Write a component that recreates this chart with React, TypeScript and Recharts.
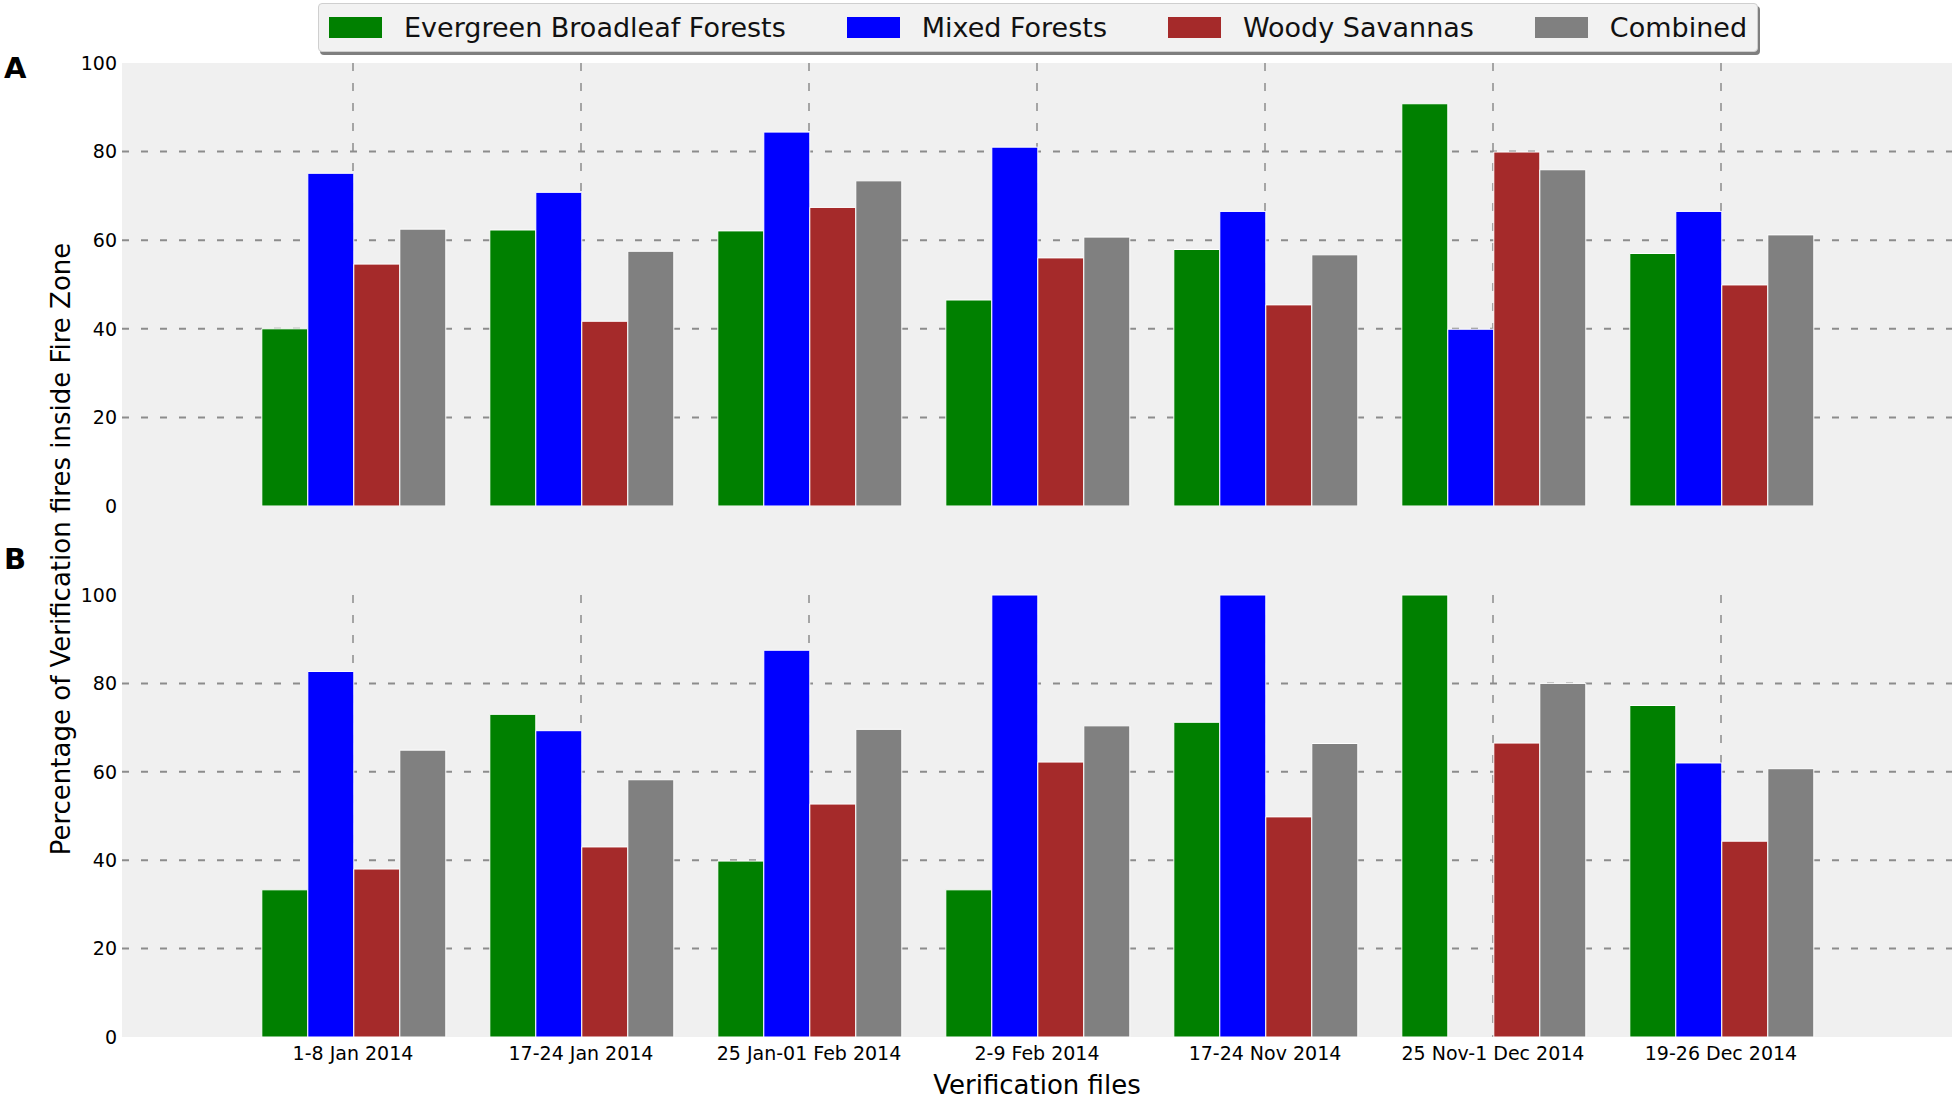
import React from "react";
import { BarChart, Bar, XAxis, YAxis, CartesianGrid, Legend, Label } from "recharts";

// ── data ────────────────────────────────────────────────────────────────────
const PERIODS = [
  "1-8 Jan 2014",
  "17-24 Jan 2014",
  "25 Jan-01 Feb 2014",
  "2-9 Feb 2014",
  "17-24 Nov 2014",
  "25 Nov-1 Dec 2014",
  "19-26 Dec 2014",
];

// panel A
const EVERGREEN_A = [40.0, 62.3, 62.1, 46.5, 57.9, 90.8, 57.0];
const MIXED_A = [75.1, 70.8, 84.4, 81.0, 66.5, 39.9, 66.5];
const WOODY_A = [54.6, 41.7, 67.4, 56.0, 45.4, 79.9, 49.9];
const COMBINED_A = [62.5, 57.5, 73.4, 60.7, 56.7, 75.9, 61.2];

// panel B (no mixed-forest fires in 25 Nov-1 Dec)
const EVERGREEN_B = [33.3, 73.0, 39.8, 33.3, 71.2, 100, 75.0];
const MIXED_B = [82.7, 69.3, 87.5, 100, 100, null, 62.0];
const WOODY_B = [38.0, 43.0, 52.7, 62.2, 49.8, 66.5, 44.3];
const COMBINED_B = [64.9, 58.2, 69.6, 70.4, 66.4, 80.0, 60.7];

const Y_TICKS = [0, 20, 40, 60, 80, 100];
const GRID_VALUES = [20, 40, 60, 80];

const SERIES = [
  { key: "evergreen", name: "Evergreen Broadleaf Forests", color: "#008000" },
  { key: "mixed", name: "Mixed Forests", color: "#0000ff" },
  { key: "woody", name: "Woody Savannas", color: "#a52a2a" },
  { key: "combined", name: "Combined", color: "#808080" },
];

const toRows = (e: any[], m: any[], w: any[], c: any[]) =>
  PERIODS.map((p, i) => ({ period: p, evergreen: e[i], mixed: m[i], woody: w[i], combined: c[i] }));

const ROWS_A = toRows(EVERGREEN_A, MIXED_A, WOODY_A, COMBINED_A);
const ROWS_B = toRows(EVERGREEN_B, MIXED_B, WOODY_B, COMBINED_B);

// ── look ────────────────────────────────────────────────────────────────────
const W = 1955;
const H = 1099;
const BG = "#f0f0f0";
const GRID = "#8c8c8c";
const INK = "#000";
const FONT = '"DejaVu Sans", sans-serif';
const PAD = { left: 117, right: 117 };
const tickStyle = { fontSize: 19, fill: INK };

// legend keeps the series order, not recharts' alphabetical one
const seriesRank = (name: string) => SERIES.findIndex((s) => s.name === name);

function LegendBox({ payload }: any) {
  const items = [...(payload || [])].sort((a: any, b: any) => seriesRank(a.value) - seriesRank(b.value));
  return (
    <div
      style={{
        display: "flex", alignItems: "center", height: 49, boxSizing: "border-box",
        padding: "0 15px 0 10px", background: "#f2f2f2", border: "1px solid #cfcfcf",
        borderRadius: 4, boxShadow: "2px 3px 0 #7f7f7f",
      }}
    >
      {items.map((p: any, i: number) => (
        <div key={p.value} style={{ display: "flex", alignItems: "center", marginLeft: i ? 61 : 0 }}>
          <span style={{ display: "inline-block", width: 53, height: 21, background: p.color, marginRight: 22 }} />
          <span style={{ fontSize: 27, color: "#111", whiteSpace: "nowrap" }}>{p.value}</span>
        </div>
      ))}
    </div>
  );
}

const bars = () =>
  SERIES.map((s) => (
    <Bar key={s.key} dataKey={s.key} name={s.name} fill={s.color} stroke="#fff" strokeWidth={1} isAnimationActive={false} />
  ));

const yAxis = () => (
  <YAxis
    type="number" domain={[0, 100]} ticks={Y_TICKS} interval={0} width={60}
    axisLine={false} tickLine={false} tickSize={0} tickMargin={5} tick={tickStyle}
  />
);

const grids = () => [
  <CartesianGrid key="h" vertical={false} horizontalValues={GRID_VALUES} fill={BG} stroke={GRID} strokeWidth={2} strokeDasharray="7 12" />,
  <CartesianGrid key="v" horizontal={false} verticalValues={PERIODS} stroke={GRID} strokeWidth={1.5} strokeDasharray="8 12" />,
];

export default function App() {
  return (
    <div style={{ position: "absolute", left: 0, top: 0, width: W, height: H, background: "#fff", fontFamily: FONT }}>
      {/* panel A */}
      <div style={{ position: "absolute", left: 0, top: 0 }}>
        <BarChart width={W} height={526} data={ROWS_A} margin={{ top: 63, right: 3, bottom: 20, left: 62 }} barCategoryGap="10%" barGap={0}>
          {grids()}
          <XAxis dataKey="period" hide padding={PAD} />
          {yAxis()}
          <Legend
            layout="horizontal" verticalAlign="middle" align="center" width={1440}
            content={LegendBox}
            wrapperStyle={{ position: "absolute", top: 3, left: 318, width: 1440, height: 49 }}
          />
          {bars()}
        </BarChart>
      </div>

      {/* panel B: its axes run to 100, the panel background goes a little higher */}
      <div style={{ position: "absolute", left: 122, top: 506, width: 1830, height: 89, background: BG }} />
      <div style={{ position: "absolute", left: 0, top: 506 }}>
        <BarChart width={W} height={593} data={ROWS_B} margin={{ top: 89, right: 3, bottom: 5, left: 62 }} barCategoryGap="10%" barGap={0}>
          {grids()}
          <XAxis
            dataKey="period" padding={PAD} height={57} interval={0}
            axisLine={false} tickLine={false} tickSize={0} tickMargin={10} tick={tickStyle}
          >
            <Label value="Verification files" position="insideBottom" offset={0} fontSize={26} fill={INK} />
          </XAxis>
          {yAxis()}
          {bars()}
        </BarChart>
      </div>

      {/* panel letters and the shared y label */}
      <svg width={W} height={H} style={{ position: "absolute", left: 0, top: 0, pointerEvents: "none" }}>
        <text x={4} y={78} fontSize={29} fontWeight="bold" fill={INK}>A</text>
        <text x={4} y={569} fontSize={29} fontWeight="bold" fill={INK}>B</text>
        <text transform="translate(70,549) rotate(-90)" textAnchor="middle" fontSize={26} fill={INK}>
          Percentage of Verification fires inside Fire Zone
        </text>
      </svg>
    </div>
  );
}
